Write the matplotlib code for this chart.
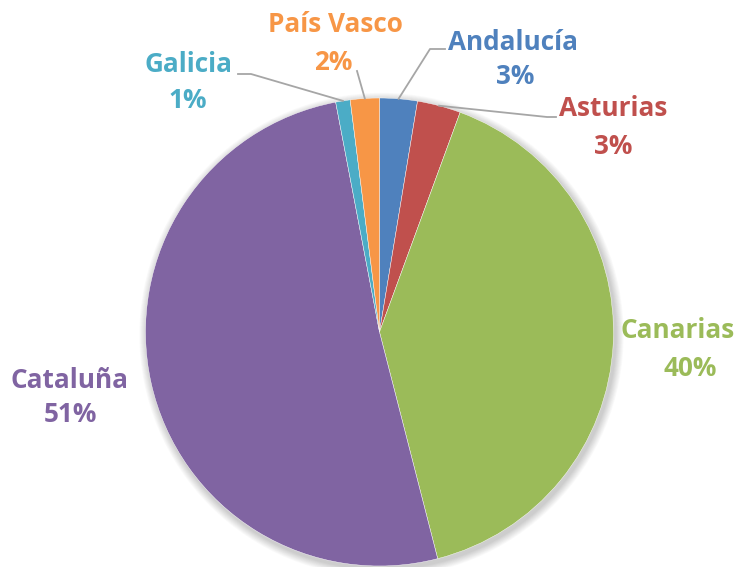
import numpy as np
import matplotlib
matplotlib.use("Agg")
import matplotlib.pyplot as plt
from matplotlib.patches import Circle

categories = ["Andalucía", "Asturias", "Canarias", "Cataluña", "Galicia", "País Vasco"]
values = [2.6, 3.0, 40.4, 51.0, 1.0, 2.0]
colors = ["#4F81BD", "#C0504D", "#9BBB59", "#8064A2", "#4BACC6", "#F79646"]

W, H = 751, 567
fig = plt.figure(figsize=(W / 100, H / 100), dpi=100)
ax = fig.add_axes([0, 0, 1, 1])
ax.set_xlim(0, W)
ax.set_ylim(0, H)
ax.set_aspect("equal")
ax.axis("off")

cx, cy, r = 379.5, H - 332, 234

# soft shadow
for i in range(10):
    ax.add_patch(Circle((cx + 2, cy - 3), r + 1 + i * 0.8, color="black",
                        alpha=0.018, lw=0, zorder=0))

wedges, _ = ax.pie(values, colors=colors, startangle=90, counterclock=False,
                   center=(cx, cy), radius=r, frame=True,
                   wedgeprops=dict(linewidth=0.3, edgecolor="white"))
ax.set_xlim(0, W)
ax.set_ylim(0, H)
ax.axis("off")

total = sum(values)
fontfam = ["Open Sans", "DejaVu Sans"]

# label layout (pixel coords from top-left): name center, pct center, leader elbow points
layout = {
    "Andalucía": ((513, 42), (515, 77), [(430, 49), (445, 49)]),
    "Asturias": ((613, 108), (613, 146), [(547, 117), (556, 117)]),
    "Canarias": ((678, 330), (690, 368), None),
    "Cataluña": ((70, 381), (70, 415), None),
    "Galicia": ((188, 65), (188, 101), [(251, 74), (238, 74)]),
    "País Vasco": ((335, 24), (333, 62), [(357, 71)]),
}

for w, cat, val, col in zip(wedges, categories, values, colors):
    (nx, ny), (px, py), leader = layout[cat]
    pct = int(np.floor(val / total * 100 + 0.5))
    ax.text(nx, H - ny, cat, ha="center", va="center", fontsize=18.8,
            fontweight="bold", color=col, family=fontfam)
    ax.text(px, H - py, f"{pct}%", ha="center", va="center", fontsize=18.8,
            fontweight="bold", color=col, family=fontfam)
    if leader:
        mid = np.deg2rad((w.theta1 + w.theta2) / 2)
        sx, sy = cx + r * np.cos(mid), cy + r * np.sin(mid)
        xs = [sx] + [p[0] for p in leader]
        ys = [sy] + [H - p[1] for p in leader]
        ax.plot(xs, ys, color="#A6A6A6", lw=1.3, zorder=5)

fig.savefig("out.png", dpi=100)
